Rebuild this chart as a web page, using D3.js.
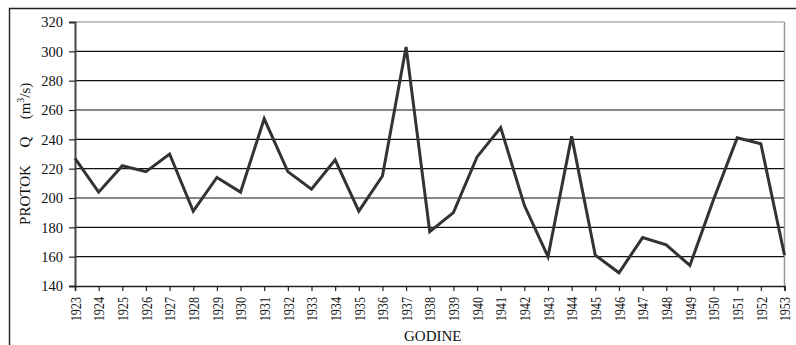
<!DOCTYPE html>
<html>
<head>
<meta charset="utf-8">
<script src="https://cdn.jsdelivr.net/npm/d3@7"></script>
<style>
  html, body { margin: 0; padding: 0; background: #fff; }
  svg { display: block; }
  text { font-family: "Liberation Serif", "Times New Roman", serif; fill: #111; }
</style>
</head>
<body>
<svg id="chart" width="796" height="345"></svg>
<script>
// Annual flow series
const years = [1923, 1924, 1925, 1926, 1927, 1928, 1929, 1930, 1931, 1932,
               1933, 1934, 1935, 1936, 1937, 1938, 1939, 1940, 1941, 1942,
               1943, 1944, 1945, 1946, 1947, 1948, 1949, 1950, 1951, 1952, 1953];
const flow = [227, 204, 222, 218, 230, 191, 214, 204, 254, 218,
              206, 226, 191, 215, 303, 177, 190, 228, 248, 195,
              160, 242, 161, 149, 173, 168, 154, 199, 241, 237, 161];
const yTicks = [140, 160, 180, 200, 220, 240, 260, 280, 300, 320];
const xTitle = "GODINE";

const svg = d3.select("#chart");
const plot = { left: 75, right: 784.5, top: 22, bottom: 286 };

const x = d3.scalePoint().domain(years).range([plot.left, plot.right]);
const y = d3.scaleLinear().domain([140, 320]).range([plot.bottom, plot.top]);

// outer frame (left and top edges)
svg.append("path")
  .attr("d", `M9.5,345 V8.5 H796`)
  .attr("fill", "none").attr("stroke", "#222").attr("stroke-width", 1.4);

// horizontal gridlines
svg.append("g").selectAll("line")
  .data(yTicks.filter(v => v > 140))
  .join("line")
  .attr("x1", plot.left).attr("x2", plot.right)
  .attr("y1", d => y(d)).attr("y2", d => y(d))
  .attr("stroke", d => d === 320 ? "#888" : "#111")
  .attr("stroke-width", 1.2);

// right edge of plot area
svg.append("line")
  .attr("x1", plot.right).attr("x2", plot.right)
  .attr("y1", plot.top).attr("y2", plot.bottom)
  .attr("stroke", "#999").attr("stroke-width", 1.5);

// y axis
const yAxis = svg.append("g")
  .attr("transform", `translate(${plot.left},0)`)
  .call(d3.axisLeft(y).tickValues(yTicks).tickSize(6).tickPadding(6));
yAxis.select(".domain").attr("stroke", "#444").attr("stroke-width", 2);
yAxis.selectAll(".tick line").attr("stroke", "#222").attr("stroke-width", 1.2);
yAxis.selectAll(".tick text")
  .attr("font-size", 14.5).attr("fill", "#111")
  .attr("font-family", "Liberation Serif").attr("dy", "0.34em");

// x axis
const xAxis = svg.append("g")
  .attr("transform", `translate(0,${plot.bottom})`)
  .call(d3.axisBottom(x).tickSize(5).tickPadding(0));
xAxis.select(".domain").attr("stroke", "#222").attr("stroke-width", 1.5);
xAxis.selectAll(".tick line").attr("stroke", "#222").attr("stroke-width", 1.2);
xAxis.selectAll(".tick text")
  .attr("font-size", 15).attr("fill", "#111")
  .attr("font-family", "Liberation Serif")
  .attr("text-anchor", "end")
  .attr("x", 0).attr("y", 0).attr("dy", 0)
  .attr("transform", "translate(5.2,11) rotate(-90) scale(0.81,1)");

// flow line
const line = d3.line().x((d, i) => x(years[i])).y(d => y(d));
svg.append("path")
  .datum(flow)
  .attr("d", line)
  .attr("fill", "none")
  .attr("stroke", "#333")
  .attr("stroke-width", 3)
  .attr("stroke-linejoin", "miter")
  .attr("stroke-miterlimit", 4);

// axis titles
const yTitle = svg.append("g").attr("transform", "translate(30,0) rotate(-90)");
yTitle.append("text").attr("x", -195).attr("y", 0)
  .attr("text-anchor", "middle").attr("font-size", 15).text("PROTOK");
yTitle.append("text").attr("x", -142).attr("y", 0)
  .attr("text-anchor", "middle").attr("font-size", 15).text("Q");
const unit = yTitle.append("text").attr("x", -101).attr("y", 0)
  .attr("text-anchor", "middle").attr("font-size", 15);
unit.append("tspan").text("(m");
unit.append("tspan").attr("font-size", 10).attr("dy", -6).text("3");
unit.append("tspan").attr("dy", 6).text("/s)");

svg.append("text")
  .attr("x", (plot.left + plot.right) / 2 + 3).attr("y", 341)
  .attr("text-anchor", "middle").attr("font-size", 15)
  .text(xTitle);
</script>
</body>
</html>
